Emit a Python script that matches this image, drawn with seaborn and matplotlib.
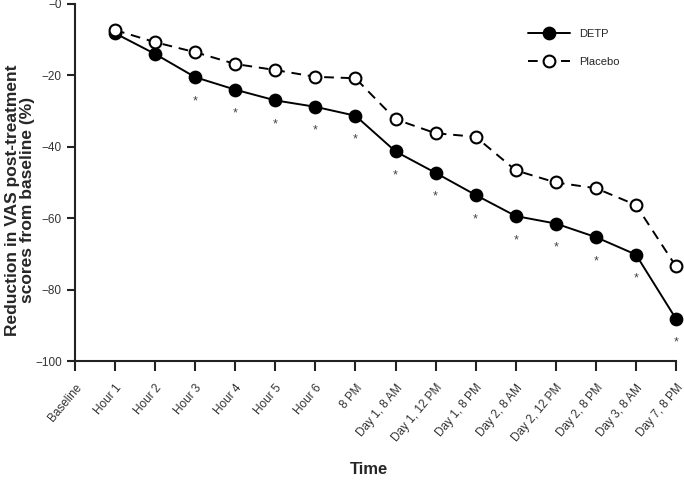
import matplotlib
matplotlib.use("Agg")
import matplotlib.pyplot as plt
import pandas as pd
import seaborn as sns

# time points on the x axis (Baseline has no measurement)
times = ["Baseline", "Hour 1", "Hour 2", "Hour 3", "Hour 4", "Hour 5", "Hour 6", "8 PM",
         "Day 1, 8 AM", "Day 1, 12 PM", "Day 1, 8 PM", "Day 2, 8 AM", "Day 2, 12 PM",
         "Day 2, 8 PM", "Day 3, 8 AM", "Day 7, 8 PM"]
measured = times[1:]

# % reduction in VAS scores from baseline
detp = [-8.2, -14.0, -20.5, -24.0, -27.0, -28.8, -31.3, -41.3, -47.3, -53.5,
        -59.4, -61.5, -65.3, -70.2, -88.2]
placebo = [-7.3, -10.7, -13.5, -16.8, -18.5, -20.4, -20.8, -32.3, -36.2, -37.2,
           -46.6, -50.0, -51.6, -56.3, -73.5]
# significance (*) vs placebo
signif = [False, False, True, True, True, True, True, True, True, True,
          True, True, True, True, True]

yticks = [-100, -80, -60, -40, -20, 0]
ytick_labels = ["\u2212100", "\u221280", "\u221260", "\u221240", "\u221220", "\u22120"]

df = pd.DataFrame({
    "pos": [times.index(t) for t in measured] * 2,
    "value": detp + placebo,
    "group": ["DETP"] * len(detp) + ["Placebo"] * len(placebo),
})

sns.set_style("ticks")
plt.rcParams["font.family"] = ["Liberation Sans", "DejaVu Sans"]

fig = plt.figure(figsize=(6.84, 4.86), dpi=100)
ax = fig.add_axes([75 / 684, 1 - 361 / 486, (676 - 75) / 684, (361 - 4) / 486])

sns.lineplot(data=df[df.group == "DETP"], x="pos", y="value", ax=ax, color="black",
             linewidth=1.4, marker="o", markersize=8.5, markerfacecolor="black",
             markeredgecolor="black", markeredgewidth=1.4, label="DETP", clip_on=False)
sns.lineplot(data=df[df.group == "Placebo"], x="pos", y="value", ax=ax, color="black",
             linewidth=1.4, linestyle=(0, (5, 3.5)), marker="o", markersize=8.5,
             markerfacecolor="white", markeredgecolor="black", markeredgewidth=1.5,
             label="Placebo", clip_on=False)

for t, v, s in zip(measured, detp, signif):
    if s:
        ax.annotate("*", (times.index(t), v), xytext=(0, -13), textcoords="offset points",
                    ha="center", va="top", fontsize=9, color="#444444")

ax.set_xlim(0, len(times) - 1)
ax.set_ylim(-100, 0)
ax.set_yticks(yticks)
ax.set_yticklabels(ytick_labels)
ax.set_xticks(range(len(times)))
ax.set_xticklabels(times, rotation=50, ha="right", va="top", rotation_mode="anchor")

for side in ["top", "right"]:
    ax.spines[side].set_visible(False)
for side in ["left", "bottom"]:
    ax.spines[side].set_linewidth(1.5)
    ax.spines[side].set_color("#222222")
ax.tick_params(axis="both", direction="out", width=1.5, color="#222222",
               labelsize=8.5, labelcolor="#333333")
ax.tick_params(axis="y", length=5.5, pad=4)
ax.tick_params(axis="x", length=7, pad=8)

ax.set_xlabel("Time", fontsize=12, fontweight="bold")
ax.set_ylabel("Reduction in VAS post-treatment\nscores from baseline (%)", fontsize=12.5,
              fontweight="bold", linespacing=1.0)
ax.xaxis.set_label_coords(0.49, -0.283)
ax.yaxis.set_label_coords(-0.067, 0.45)

ax.legend(loc="upper left", bbox_to_anchor=(528 / 684, 1 - 29 / 486),
          bbox_transform=fig.transFigure, frameon=False, fontsize=8,
          handlelength=3.8, labelspacing=1.65, borderpad=0, borderaxespad=0,
          handletextpad=0.8)

fig.savefig("out.png", dpi=100)
